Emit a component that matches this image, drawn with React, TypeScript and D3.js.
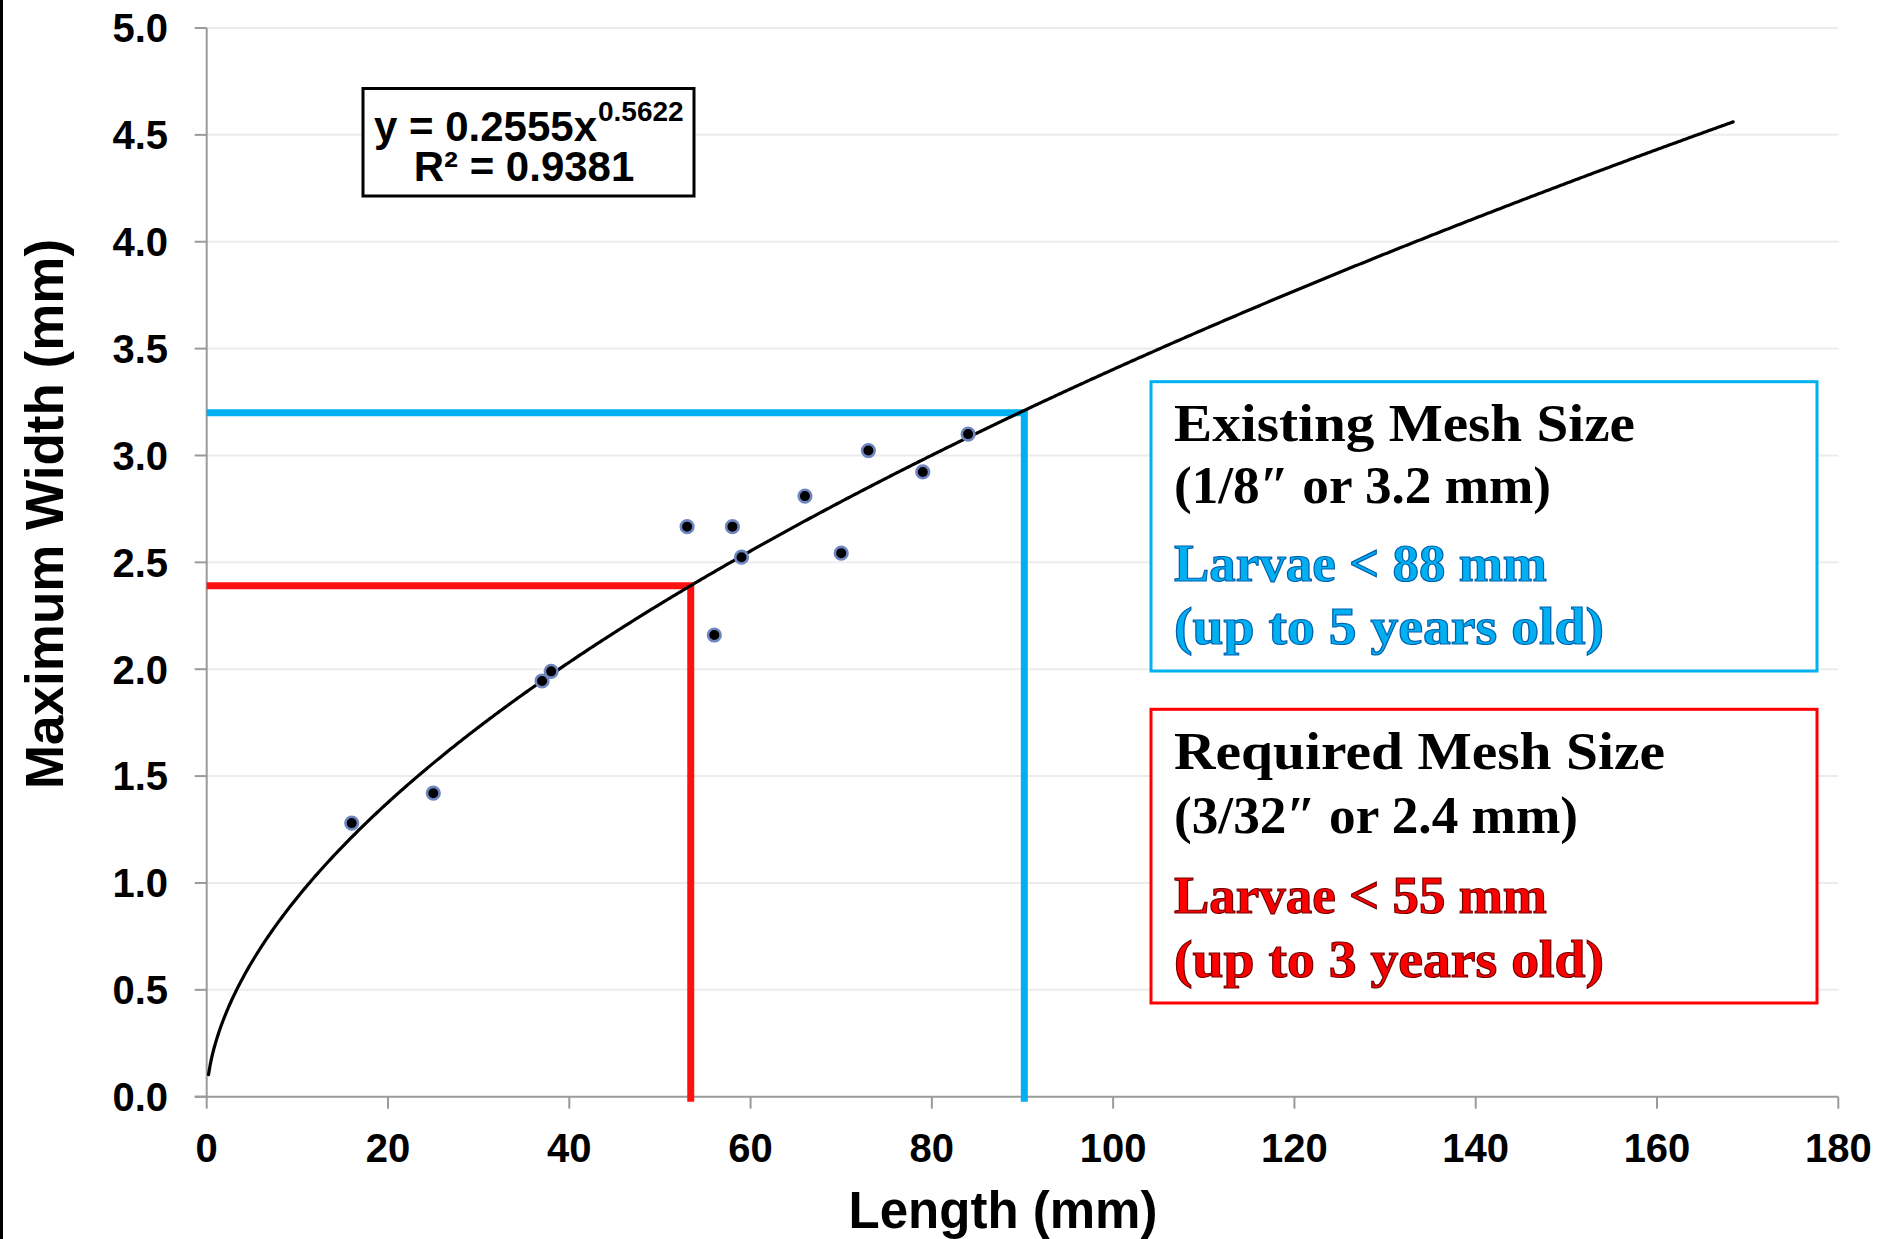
import React from "react";
import * as d3 from "d3";

const lengthMM = [16, 25, 37, 38, 53, 56, 58, 59, 66, 70, 73, 79, 84];
const widthMM = [1.28, 1.42, 1.945, 1.99, 2.667, 2.16, 2.667, 2.524, 2.81, 2.543, 3.023, 2.923, 3.1];
const xTicks = [0, 20, 40, 60, 80, 100, 120, 140, 160, 180];
const yTicks = [0, 0.5, 1, 1.5, 2, 2.5, 3, 3.5, 4, 4.5, 5];
const fitCoef = 0.2555;
const fitExp = 0.5622;
const fitStart = 0.2;
const fitEnd = 168.4;
const requiredMesh = { x: 53.4, y: 2.39 };
const existingMesh = { x: 90.2, y: 3.2 };
const existingLines = ["Existing Mesh Size", "(1/8\u2033 or 3.2 mm)", "Larvae < 88 mm", "(up to 5 years old)"];
const requiredLines = ["Required Mesh Size", "(3/32\u2033 or 2.4 mm)", "Larvae < 55 mm", "(up to 3 years old)"];

const W = 1882;
const H = 1239;
const SANS = "'Liberation Sans', Arial, sans-serif";
const SERIF = "'Liberation Serif', 'Times New Roman', serif";

export default function App() {
  const x = d3.scaleLinear().domain([0, 180]).range([206.7, 1838.3]);
  const y = d3.scaleLinear().domain([0, 5]).range([1096.7, 28]);
  const fitData = d3.range(fitStart, fitEnd, 0.2).concat([fitEnd]);
  const line = d3
    .line<number>()
    .x((d) => x(d))
    .y((d) => y(fitCoef * Math.pow(d, fitExp)))
    .curve(d3.curveLinear);

  const x0 = x(0);
  const y0 = y(0);

  const boxText = (
    lines: string[],
    top: number,
    baselines: number[],
    widths: number[],
    accent: string,
    outline: string,
    border: string,
    bottom: number
  ) => (
    <g>
      <rect x={1151} y={top} width={666} height={bottom - top} fill="white" stroke={border} strokeWidth={3} />
      {lines.map((t, i) => (
        <text
          key={i}
          x={1174}
          y={baselines[i]}
          fontFamily={SERIF}
          fontWeight="bold"
          fontSize={i < 2 ? 53 : 52}
          textLength={widths[i]}
          lengthAdjust="spacingAndGlyphs"
          fill={i < 2 ? "#000" : accent}
          stroke={i < 2 ? "none" : outline}
          strokeWidth={i < 2 ? 0 : 1.2}
        >
          {t}
        </text>
      ))}
    </g>
  );

  return (
    <svg
      width={W}
      height={H}
      style={{ position: "absolute", left: 0, top: 0, background: "white" }}
    >
      <rect x={0} y={0} width={W} height={H} fill="white" />
      <rect x={0} y={0} width={3} height={H} fill="black" />

      {/* gridlines */}
      {yTicks.slice(1).map((t) => (
        <line key={t} x1={x0} x2={x(180)} y1={y(t)} y2={y(t)} stroke="#ececec" strokeWidth={2} />
      ))}

      {/* axes */}
      <line x1={x0} x2={x0} y1={y(5)} y2={y0} stroke="#9a9a9a" strokeWidth={2} />
      <line x1={x0 - 12} x2={x(180)} y1={y0} y2={y0} stroke="#9a9a9a" strokeWidth={2} />
      {yTicks.map((t) => (
        <g key={"y" + t}>
          <line x1={x0 - 12} x2={x0} y1={y(t)} y2={y(t)} stroke="#9a9a9a" strokeWidth={2} />
          <text
            x={168}
            y={y(t)}
            dy="0.36em"
            textAnchor="end"
            fontFamily={SANS}
            fontWeight="bold"
            fontSize={40}
          >
            {t.toFixed(1)}
          </text>
        </g>
      ))}
      {xTicks.map((t) => (
        <g key={"x" + t}>
          <line x1={x(t)} x2={x(t)} y1={y0} y2={y0 + 12} stroke="#9a9a9a" strokeWidth={2} />
          <text
            x={x(t)}
            y={1162}
            textAnchor="middle"
            fontFamily={SANS}
            fontWeight="bold"
            fontSize={40}
          >
            {t}
          </text>
        </g>
      ))}

      {/* axis titles */}
      <text
        transform="translate(63,514) rotate(-90)"
        textAnchor="middle"
        fontFamily={SANS}
        fontWeight="bold"
        fontSize={53}
      >
        Maximum Width (mm)
      </text>
      <text x={1003} y={1228} textAnchor="middle" fontFamily={SANS} fontWeight="bold" fontSize={51}>
        Length (mm)
      </text>

      {/* reference lines */}
      <polyline
        points={`${x0},${y(existingMesh.y)} ${x(existingMesh.x)},${y(existingMesh.y)} ${x(existingMesh.x)},${y0 + 5}`}
        fill="none"
        stroke="#00b0f0"
        strokeWidth={7}
      />
      <polyline
        points={`${x0},${y(requiredMesh.y)} ${x(requiredMesh.x)},${y(requiredMesh.y)} ${x(requiredMesh.x)},${y0 + 5}`}
        fill="none"
        stroke="#ff1010"
        strokeWidth={7}
      />

      {/* trend line */}
      <path d={line(fitData) || ""} fill="none" stroke="black" strokeWidth={3.2} strokeLinecap="round" />

      {/* data points */}
      {lengthMM.map((L, i) => (
        <circle key={i} cx={x(L)} cy={y(widthMM[i])} r={6.3} fill="black" stroke="#6f86c0" strokeWidth={2.6} />
      ))}

      {/* equation box */}
      <rect x={363} y={88.5} width={331} height={107.5} fill="white" stroke="black" strokeWidth={3} />
      <text x={374} y={141} textAnchor="start" fontFamily={SANS} fontWeight="bold" fontSize={42}>
        y = 0.2555x
      </text>
      <text x={598} y={121} textAnchor="start" fontFamily={SANS} fontWeight="bold" fontSize={28}>
        {fitExp.toString()}
      </text>
      <text x={524} y={181} textAnchor="middle" fontFamily={SANS} fontWeight="bold" fontSize={42}>
        R² = 0.9381
      </text>

      {/* annotation boxes */}
      {boxText(existingLines, 381.7, [441, 503, 581, 644], [461, 377, 373, 430], "#00b0f0", "#0060b0", "#00b0f0", 671)}
      {boxText(requiredLines, 709.3, [769, 833, 913, 977], [491, 404, 373, 430], "#ff0000", "#700000", "#ff0000", 1003)}
    </svg>
  );
}
